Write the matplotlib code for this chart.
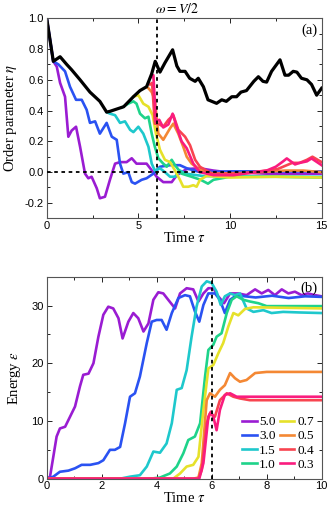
import matplotlib
matplotlib.use('Agg')
import matplotlib.pyplot as plt
from matplotlib.ticker import MultipleLocator

plt.rcParams['font.family'] = ['Liberation Sans', 'DejaVu Sans']
plt.rcParams['mathtext.fontset'] = 'stix'

# colours for the drive strengths
labels = ['5.0', '3.0', '1.5', '1.0', '0.7', '0.5', '0.4', '0.3']
colors = ['#9a1cd2', '#2a52f2', '#1ec8cc', '#1ed38a', '#e6e12a', '#f48834', '#f84450', '#fa1c7e']

# ---- panel (a): order parameter ----
a_t_black = [0, 0.36, 0.73, 1.09, 1.36, 1.82, 2.36, 2.9, 3.27, 3.45, 4.2, 4.73, 5.09, 5.45, 5.73, 5.92,
             6.18, 6.45, 6.87, 7.1, 7.27, 7.55, 7.8, 8.1, 8.27, 8.55, 8.8, 9.27, 9.55, 9.8, 10.1, 10.36,
             10.6, 10.9, 11.3, 11.55, 11.8, 12.0, 12.27, 12.73, 13.0, 13.2, 13.45, 13.65, 13.9, 14.2, 14.45,
             14.73, 15.0]
a_black = [1.0, 0.72, 0.75, 0.70, 0.665, 0.60, 0.52, 0.46, 0.39, 0.395, 0.425, 0.49, 0.53, 0.555, 0.64, 0.72,
           0.65, 0.71, 0.795, 0.69, 0.655, 0.655, 0.61, 0.59, 0.61, 0.555, 0.47, 0.447, 0.47, 0.46, 0.49, 0.49,
           0.52, 0.53, 0.59, 0.62, 0.59, 0.585, 0.655, 0.73, 0.63, 0.63, 0.655, 0.65, 0.61, 0.60, 0.57,
           0.50, 0.545]

a_t = [
    [0, 0.36, 0.55, 0.73, 1.0, 1.18, 1.36, 1.6, 1.82, 2.09, 2.27, 2.45, 2.73, 2.9, 3.18, 3.45, 3.73, 4.0,
     4.36, 4.64, 4.9, 5.45, 6.0, 6.36, 6.82, 7.1, 7.64, 8.36, 9.1, 9.8, 12.0, 15.0],
    [0, 0.36, 0.64, 1.0, 1.27, 1.6, 1.91, 2.18, 2.36, 2.64, 2.9, 3.27, 3.55, 3.82, 4.0, 4.18, 4.45, 4.64,
     4.82, 5.18, 5.45, 5.82, 6.18, 6.73, 7.27, 7.64, 8.36, 10.0, 15.0],
    [3.27, 3.45, 3.73, 4.0, 4.27, 4.55, 4.73, 5.0, 5.27, 5.55, 5.73, 5.9, 6.18, 6.45, 6.73, 7.0, 7.27,
     7.6, 8.5, 10.0, 12.5, 15.0],
    [4.1, 4.18, 4.45, 4.73, 4.9, 5.09, 5.36, 5.55, 5.73, 5.9, 6.09, 6.36, 6.55, 6.82, 7.0, 7.36, 7.9,
     8.4, 8.8, 9.1, 10.0, 12.5, 15.0],
    [4.73, 5.0, 5.27, 5.55, 5.78, 5.96, 6.18, 6.45, 6.73, 7.0, 7.27, 7.45, 7.73, 8.0, 8.18, 8.36, 8.73,
     10.0, 12.5, 15.0],
    [5.45, 5.55, 5.73, 5.9, 6.09, 6.36, 6.73, 6.91, 7.18, 7.45, 7.64, 7.91, 8.36, 9.1, 11.0, 13.0, 14.0,
     15.0],
    [5.64, 5.75, 5.9, 6.09, 6.36, 6.64, 6.91, 7.18, 7.55, 7.82, 8.1, 8.36, 9.0, 10.5, 12.0, 12.6, 13.0,
     13.4, 13.8, 14.2, 14.5, 15.0],
    [5.73, 5.82, 5.96, 6.14, 6.36, 6.64, 6.87, 7.09, 7.36, 7.64, 8.0, 8.36, 9.1, 10.2, 12.0, 12.5, 12.9,
     13.1, 13.55, 13.8, 14.2, 14.45, 15.0],
]
a_eta = [
    [1.0, 0.72, 0.685, 0.58, 0.49, 0.23, 0.27, 0.295, 0.165, -0.01, -0.04, -0.03, -0.105, -0.17, -0.16,
     -0.05, 0.055, 0.065, 0.065, 0.09, 0.055, 0.055, -0.03, -0.065, -0.065, -0.02, 0.02, 0.025, 0.01,
     0.0, -0.01, -0.01],
    [1.0, 0.72, 0.70, 0.655, 0.555, 0.47, 0.47, 0.405, 0.32, 0.33, 0.25, 0.32, 0.23, 0.21, 0.055, -0.01,
     0.0, -0.065, -0.075, -0.05, -0.04, -0.01, 0.035, 0.045, 0.045, 0.025, 0.0, 0.005, 0.005],
    [0.39, 0.38, 0.37, 0.32, 0.33, 0.275, 0.26, 0.295, 0.25, 0.165, 0.055, 0.01, 0.025, 0.0, -0.03,
     -0.03, 0.01, -0.01, -0.025, -0.03, -0.03, -0.03],
    [0.42, 0.425, 0.445, 0.46, 0.445, 0.38, 0.35, 0.36, 0.25, 0.165, 0.09, 0.055, 0.035, 0.08, 0.045,
     -0.01, -0.03, -0.05, -0.075, -0.05, -0.03, -0.03, -0.035],
    [0.49, 0.50, 0.445, 0.425, 0.37, 0.25, 0.145, 0.08, 0.065, 0.01, -0.05, -0.095, -0.095, -0.085,
     -0.095, -0.05, -0.025, -0.035, -0.03, -0.035],
    [0.555, 0.545, 0.52, 0.47, 0.25, 0.21, 0.285, 0.315, 0.25, 0.165, 0.10, 0.055, 0.015, -0.01, -0.005,
     0.01, 0.01, 0.0],
    [0.57, 0.58, 0.315, 0.315, 0.295, 0.34, 0.37, 0.275, 0.23, 0.175, 0.08, 0.035, -0.01, -0.01, 0.01,
     0.02, 0.04, 0.06, 0.06, 0.08, 0.10, 0.065],
    [0.62, 0.63, 0.33, 0.34, 0.29, 0.31, 0.38, 0.295, 0.20, 0.155, 0.055, 0.0, -0.02, -0.02, 0.01,
     0.035, 0.07, 0.089, 0.05, 0.06, 0.07, 0.089, 0.045],
]

# ---- panel (b): energy ----
b_t = [
    [0, 0.12, 0.24, 0.36, 0.48, 0.67, 0.85, 1.03, 1.21, 1.33, 1.52, 1.7, 1.88, 2.06, 2.24, 2.42, 2.61,
     2.76, 2.97, 3.15, 3.33, 3.52, 3.7, 3.88, 4.06, 4.24, 4.42, 4.67, 4.85, 5.09, 5.33, 5.52, 5.7, 5.88,
     6.06, 6.24, 6.45, 6.67, 6.97, 7.27, 7.58, 7.82, 8.06, 8.3, 8.55, 8.79, 9.03, 9.27, 9.5, 9.76, 10.0],
    [0, 0.24, 0.48, 0.79, 1.03, 1.27, 1.58, 1.88, 2.06, 2.3, 2.48, 2.67, 2.85, 3.03, 3.21, 3.39, 3.64,
     3.82, 4.0, 4.18, 4.36, 4.55, 4.79, 5.03, 5.21, 5.39, 5.55, 5.7, 5.88, 6.12, 6.3, 6.48, 6.67, 6.91,
     7.21, 7.6, 8.2, 8.8, 9.4, 10.0],
    [0, 2.67, 3.03, 3.39, 3.64, 3.88, 4.12, 4.36, 4.55, 4.73, 4.91, 5.09, 5.27, 5.45, 5.64, 5.82, 6.0,
     6.18, 6.33, 6.48, 6.67, 6.85, 7.03, 7.27, 7.52, 7.88, 8.18, 8.6, 9.2, 10.0],
    [0, 3.76, 4.12, 4.48, 4.73, 4.97, 5.15, 5.39, 5.58, 5.76, 5.88, 6.06, 6.18, 6.36, 6.55, 6.73, 6.91,
     7.15, 7.39, 7.7, 8.0, 10.0],
    [0, 4.6, 4.85, 5.09, 5.33, 5.52, 5.7, 5.88, 6.06, 6.24, 6.42, 6.61, 6.79, 6.97, 7.21, 7.52, 10.0],
    [0, 5.33, 5.52, 5.64, 5.82, 5.94, 6.12, 6.3, 6.48, 6.67, 6.85, 7.03, 7.27, 7.58, 8.0, 10.0],
    [0, 5.52, 5.64, 5.82, 5.94, 6.12, 6.3, 6.55, 6.79, 7.03, 7.39, 10.0],
    [0, 5.55, 5.7, 5.88, 5.97, 6.06, 6.18, 6.3, 6.48, 6.67, 6.91, 7.27, 10.0],
]
b_e = [
    [0, 0.35, 3.8, 7.3, 8.7, 9.0, 10.75, 12.5, 16.0, 18.0, 18.2, 20.0, 24.6, 28.4, 29.8, 29.5, 27.8,
     24.3, 27.2, 28.7, 27.8, 25.5, 26.9, 31.0, 32.3, 32.1, 31.0, 29.5, 32.1, 33.0, 32.8, 30.7, 32.1, 33.0,
     33.0, 31.6, 30.4, 32.1, 32.1, 31.8, 32.8, 32.1, 32.7, 31.8, 32.8, 32.1, 32.4, 31.8, 32.1, 31.8, 31.6],
    [0, 0.35, 1.2, 1.4, 1.8, 2.4, 2.4, 2.7, 3.2, 5.0, 5.0, 5.5, 9.6, 14.2, 14.8, 17.7, 23.5, 27.2, 27.5,
     27.5, 25.8, 28.7, 31.3, 31.8, 31.6, 29.0, 27.2, 30.1, 32.1, 32.1, 31.0, 28.7, 31.0, 31.8, 31.6,
     31.4, 31.7, 31.3, 31.6, 31.5],
    [0, 0, 0.35, 0.6, 2.1, 4.7, 4.5, 6.1, 9.6, 15.4, 15.7, 18.8, 24.6, 29.8, 33.3, 34.2, 33.9, 32.4,
     30.1, 31.6, 32.1, 31.8, 32.1, 29.5, 28.9, 29.2, 28.7, 28.9, 28.8, 28.7],
    [0, 0, 0.2, 0.9, 2.1, 4.4, 6.7, 7.3, 9.6, 17.7, 22.3, 23.2, 24.6, 25.2, 28.7, 31.0, 31.6, 31.0, 30.7,
     30.4, 29.9, 29.9],
    [0, 0, 0.9, 2.1, 2.4, 3.8, 11.9, 19.1, 19.7, 21.7, 23.5, 26.4, 28.7, 28.3, 29.4, 29.7, 29.5],
    [0, 0, 0.2, 2.7, 13.6, 14.8, 14.2, 15.4, 16.2, 18.3, 17.4, 16.8, 17.1, 18.3, 18.5, 18.5],
    [0, 0, 1.5, 9.6, 11.3, 10.75, 13.6, 14.8, 14.2, 13.9, 13.6, 13.6],
    [0, 0, 2.7, 10.75, 11.6, 10.75, 8.4, 11.9, 14.5, 14.8, 14.2, 14.2, 14.2],
]

fig = plt.figure(figsize=(3.32, 5.16), dpi=100)
ax1 = fig.add_axes([0.1407, 0.577, 0.828, 0.3876])
ax2 = fig.add_axes([0.1407, 0.0723, 0.828, 0.3915])

serif = ['Liberation Serif', 'DejaVu Serif']

for t, y, c in zip(a_t, a_eta, colors):
    ax1.plot(t, y, color=c, lw=1.9, solid_joinstyle='round')
ax1.plot(a_t_black, a_black, color='k', lw=2.3, solid_joinstyle='round')
ax1.axhline(0, color='k', ls=(0, (2, 2)), lw=1.3, zorder=5)
ax1.axvline(6, color='k', ls=(0, (2, 2)), lw=1.3, zorder=5)
ax1.set_xlim(0, 15)
ax1.set_ylim(-0.3, 1.0)
ax1.xaxis.set_major_locator(MultipleLocator(5))
ax1.xaxis.set_minor_locator(MultipleLocator(2.5))
ax1.yaxis.set_major_locator(MultipleLocator(0.2))
ax1.yaxis.set_minor_locator(MultipleLocator(0.1))
ax1.set_yticks([-0.2, 0.0, 0.2, 0.4, 0.6, 0.8, 1.0])
ax1.set_yticklabels(['-0.2', '0.0', '0.2', '0.4', '0.6', '0.8', '1.0'])
ax1.set_xlabel(r'Time $\tau$', family=serif, fontsize=10.5, labelpad=0)
ax1.set_ylabel(r'Order parameter $\eta$', family=serif, fontsize=10.5, labelpad=4)
ax1.text(5.9, 1.012, r'$\omega = V/2$', fontsize=10, ha='left', va='bottom')
ax1.text(0.985, 0.975, '(a)', transform=ax1.transAxes, ha='right', va='top', family=serif, fontsize=10.5)

for t, y, c, lab in zip(b_t, b_e, colors, labels):
    ax2.plot(t, y, color=c, lw=1.9, label=lab, solid_joinstyle='round')
ax2.axvline(6, color='k', ls=(0, (2, 2)), lw=1.3, zorder=5)
ax2.set_xlim(0, 10)
ax2.set_ylim(0, 35)
ax2.xaxis.set_major_locator(MultipleLocator(2))
ax2.xaxis.set_minor_locator(MultipleLocator(1))
ax2.yaxis.set_major_locator(MultipleLocator(10))
ax2.yaxis.set_minor_locator(MultipleLocator(5))
ax2.set_xlabel(r'Time $\tau$', family=serif, fontsize=10.5, labelpad=0)
ax2.set_ylabel(r'Energy $\epsilon$', family=serif, fontsize=10.5, labelpad=6)
ax2.text(0.985, 0.975, '(b)', transform=ax2.transAxes, ha='right', va='top', family=serif, fontsize=10.5)
ax2.legend(loc='lower right', ncol=2, frameon=False, handlelength=1.1, handletextpad=0.2,
           columnspacing=0.3, labelspacing=0.15, borderaxespad=0.2,
           prop={'family': serif, 'size': 9.5})

for ax in (ax1, ax2):
    ax.tick_params(which='both', direction='in', top=True, right=True, labelsize=8, pad=2)
    ax.tick_params(which='major', length=3.5, width=0.6)
    ax.tick_params(which='minor', length=2, width=0.6)
    for s in ax.spines.values():
        s.set_color('#555555')
        s.set_linewidth(0.8)

fig.savefig('out.png', dpi=100)
